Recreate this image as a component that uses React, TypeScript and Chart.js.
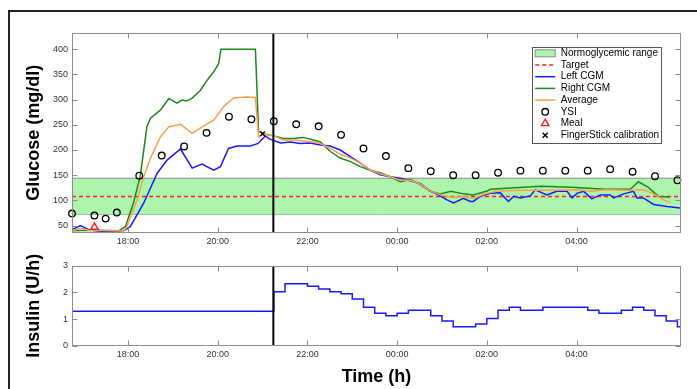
import React, { useEffect, useRef } from 'react';
import { Chart, registerables } from 'chart.js';

Chart.register(...registerables);

const FONT = '"Liberation Sans", Arial, Helvetica, sans-serif';

// ---- axis ranges / constants ----
const X_MIN = 16.75;
const X_MAX = 30.33;
const GLU_MIN = 36;
const GLU_MAX = 432;
const INS_MIN = 0;
const INS_MAX = 3;
const NORMO_LOW = 72;
const NORMO_HIGH = 144;
const TARGET = 108;
const CONTROL_START = 21.24;

const timeTicks = [18, 20, 22, 24, 26, 28];
const glucoseTicks = [50, 100, 150, 200, 250, 300, 350, 400];
const insulinTicks = [0, 1, 2, 3];

// ---- data (time in hours since midnight of day 1) ----
const leftCgmTimes = [16.75, 16.94, 17.12, 17.38, 17.9, 18.05, 18.35, 18.65, 18.87, 19.17, 19.43, 19.65, 19.91, 20.06, 20.24, 20.43, 20.73, 20.9, 21.06, 21.15, 21.4, 21.62, 21.84, 22.06, 22.29, 22.51, 22.73, 22.96, 23.18, 23.4, 23.62, 23.85, 24.07, 24.29, 24.52, 24.74, 24.96, 25.11, 25.26, 25.48, 25.63, 25.7, 25.85, 26.08, 26.3, 26.48, 26.6, 26.75, 26.97, 27.08, 27.34, 27.56, 27.79, 27.9, 28.01, 28.16, 28.34, 28.53, 28.75, 28.83, 29.05, 29.27, 29.35, 29.49, 29.72, 30.02, 30.31];
const leftCgmValues = [42, 50, 42, 39, 40, 48, 95, 154, 180, 202, 164, 172, 160, 167, 203, 208, 208, 213, 228, 222, 214, 216, 213, 214, 210, 208, 200, 187, 174, 160, 151, 147, 144, 139, 133, 119, 109, 101, 95, 104, 98, 98, 108, 114, 115, 98, 108, 105, 109, 121, 111, 118, 118, 105, 114, 118, 103, 111, 111, 105, 113, 118, 105, 105, 92, 88, 85];

const rightCgmTimes = [16.75, 17.2, 17.8, 17.94, 18.12, 18.27, 18.42, 18.5, 18.72, 18.91, 19.09, 19.2, 19.3, 19.43, 19.61, 19.76, 19.91, 20.02, 20.07, 20.84, 20.91, 21.02, 21.25, 21.47, 21.69, 21.91, 22.14, 22.29, 22.51, 22.73, 22.96, 23.18, 23.4, 23.62, 23.85, 24.07, 24.29, 24.52, 24.74, 24.96, 25.2, 25.48, 25.7, 25.99, 26.08, 26.45, 27.19, 27.9, 28.27, 28.64, 29.2, 29.38, 29.6, 29.83, 30.07];
const rightCgmValues = [40, 41, 40, 48, 95, 147, 246, 263, 279, 302, 293, 299, 297, 303, 318, 338, 355, 371, 400, 400, 237, 232, 228, 223, 223, 225, 220, 216, 197, 184, 177, 167, 160, 155, 147, 137, 142, 131, 118, 113, 118, 113, 111, 118, 122, 124, 128, 126, 124, 122, 122, 137, 126, 108, 107];

const averageTimes = [16.75, 16.94, 17.12, 17.9, 17.96, 18.2, 18.35, 18.5, 18.72, 18.91, 19.17, 19.43, 19.65, 19.91, 20.13, 20.35, 20.65, 20.84, 20.91, 21.02, 21.25, 21.47, 21.69, 21.91, 22.14, 22.29, 22.51, 22.73, 22.96, 23.18, 23.4, 23.62, 23.85, 24.07, 24.29, 24.52, 24.74, 24.96, 25.26, 25.5, 25.7, 25.93, 26.2, 26.82, 27.34, 28.01, 28.34, 28.64, 29.2, 29.49, 29.72, 29.94, 30.1];
const averageValues = [40, 45, 41, 40, 45, 101, 147, 184, 226, 246, 251, 233, 246, 259, 286, 303, 305, 304, 226, 231, 228, 220, 220, 218, 216, 213, 203, 192, 184, 174, 160, 153, 147, 140, 140, 132, 119, 111, 106, 108, 104, 112, 118, 120, 120, 121, 118, 121, 120, 121, 113, 101, 96];

const ysiTimes = [16.75, 17.25, 17.5, 17.75, 18.25, 18.75, 19.25, 19.75, 20.25, 20.75, 21.25, 21.75, 22.25, 22.75, 23.25, 23.75, 24.25, 24.75, 25.25, 25.75, 26.25, 26.75, 27.25, 27.75, 28.25, 28.75, 29.25, 29.75, 30.25];
const ysiValues = [74, 70, 64, 76, 149, 189, 207, 234, 266, 261, 257, 251, 247, 230, 203, 188, 164, 158, 150, 150, 155, 159, 159, 159, 159, 162, 157, 148, 140];

const mealTimes = [17.25];
const mealValues = [47];

const fingerStickTimes = [21.0];
const fingerStickValues = [232];

const insulinTimes = [16.75, 21.25, 21.5, 22.0, 22.25, 22.5, 22.75, 23.0, 23.25, 23.5, 23.75, 24.0, 24.25, 24.75, 25.0, 25.25, 25.75, 26.0, 26.25, 26.5, 26.75, 27.25, 28.25, 28.5, 29.0, 29.25, 29.5, 29.75, 30.0, 30.25, 30.33];
const insulinValues = [1.3, 2.03, 2.33, 2.23, 2.13, 2.03, 1.95, 1.76, 1.45, 1.22, 1.13, 1.22, 1.34, 1.13, 0.93, 0.72, 0.82, 1.03, 1.34, 1.45, 1.34, 1.45, 1.34, 1.22, 1.34, 1.45, 1.34, 1.13, 0.93, 0.72, 0.72];

// ---- styles ----
const BLUE = '#1a1aff';
const GREEN = '#1b8a1b';
const ORANGE = '#ff9d4d';
const BAND_FILL = 'rgb(173, 245, 173)';
const BAND_EDGE = '#8a8a8a';
const RED = '#ff2020';
const FRAME = '#8c8c8c';
const TICK_COLOR = '#333';

const pts = (xs: number[], ys: number[]) => xs.map((x, i) => ({ x, y: ys[i] }));
const fmtHour = (v: number) => {
  const h = ((Math.round(v) % 24) + 24) % 24;
  return String(h).padStart(2, '0') + ':00';
};

const framePlugin = {
  id: 'matlabFrame',
  afterDatasetsDraw(chart: any) {
    const { ctx, chartArea: a, scales } = chart;
    const L = Math.round(a.left) + 0.5;
    const R = Math.round(a.right) - 0.5;
    const T = Math.round(a.top) + 0.5;
    const B = Math.round(a.bottom) - 0.5;
    ctx.save();
    ctx.strokeStyle = FRAME;
    ctx.lineWidth = 1;
    ctx.strokeRect(L, T, R - L, B - T);
    const len = 5;
    ctx.beginPath();
    scales.x.ticks.forEach((t: any) => {
      const px = Math.round(scales.x.getPixelForValue(t.value)) + 0.5;
      ctx.moveTo(px, B); ctx.lineTo(px, B - len);
      ctx.moveTo(px, T); ctx.lineTo(px, T + len);
    });
    scales.y.ticks.forEach((t: any) => {
      const py = Math.round(scales.y.getPixelForValue(t.value)) + 0.5;
      ctx.moveTo(L, py); ctx.lineTo(L + len, py);
      ctx.moveTo(R, py); ctx.lineTo(R - len, py);
    });
    ctx.stroke();
    ctx.restore();
  },
};

const legendPlugin = {
  id: 'boxLegend',
  afterDraw(chart: any) {
    const items = chart.data.datasets
      .filter((d: any) => d.legendRank !== undefined)
      .sort((p: any, q: any) => p.legendRank - q.legendRank);
    const { ctx, chartArea: a } = chart;
    const rowH = 11.7;
    const boxW = 129;
    const boxH = items.length * rowH + 2.5;
    const right = a.right - 20.3;
    const top = a.top + 14.3;
    const left = right - boxW;
    ctx.save();
    ctx.fillStyle = '#fff';
    ctx.fillRect(left, top, boxW, boxH);
    ctx.strokeStyle = '#555';
    ctx.lineWidth = 1;
    ctx.strokeRect(Math.round(left) + 0.5, Math.round(top) + 0.5, boxW, Math.round(boxH));
    ctx.font = '10px ' + FONT;
    ctx.textBaseline = 'middle';
    ctx.textAlign = 'left';
    items.forEach((d: any, i: number) => {
      const y = top + 6 + i * rowH;
      const x0 = left + 3.5;
      const x1 = left + 23.5;
      const cx = left + 13.5;
      ctx.save();
      if (d.legendType === 'band') {
        ctx.fillStyle = d.backgroundColor;
        ctx.fillRect(x0, y - 3.5, 20, 7);
        ctx.strokeStyle = d.borderColor;
        ctx.lineWidth = 1;
        ctx.strokeRect(x0, y - 3.5, 20, 7);
      } else if (d.legendType === 'line') {
        ctx.strokeStyle = d.borderColor;
        ctx.lineWidth = d.borderWidth;
        ctx.setLineDash(d.borderDash || []);
        ctx.beginPath();
        ctx.moveTo(x0, y);
        ctx.lineTo(x1, y);
        ctx.stroke();
      } else if (d.legendType === 'circle') {
        ctx.strokeStyle = d.pointBorderColor;
        ctx.lineWidth = d.pointBorderWidth;
        ctx.beginPath();
        ctx.arc(cx, y, d.pointRadius, 0, Math.PI * 2);
        ctx.stroke();
      } else if (d.legendType === 'triangle') {
        const r = d.pointRadius;
        ctx.strokeStyle = d.pointBorderColor;
        ctx.lineWidth = d.pointBorderWidth;
        ctx.beginPath();
        ctx.moveTo(cx, y - r);
        ctx.lineTo(cx + r * 0.866, y + r * 0.5);
        ctx.lineTo(cx - r * 0.866, y + r * 0.5);
        ctx.closePath();
        ctx.stroke();
      } else if (d.legendType === 'cross') {
        const r = d.pointRadius * 0.8;
        ctx.strokeStyle = d.pointBorderColor;
        ctx.lineWidth = d.pointBorderWidth;
        ctx.beginPath();
        ctx.moveTo(cx - r, y - r); ctx.lineTo(cx + r, y + r);
        ctx.moveTo(cx + r, y - r); ctx.lineTo(cx - r, y + r);
        ctx.stroke();
      }
      ctx.restore();
      ctx.fillStyle = '#000';
      ctx.fillText(d.label, left + 29, y);
    });
    ctx.restore();
  },
};

const tickFont = { family: FONT, size: 9 };
const titleFont = { family: FONT, size: 18, weight: 'bold' as const };

function timeAxis(height: number, extra: any = {}) {
  return {
    type: 'linear',
    min: X_MIN,
    max: X_MAX,
    grid: { display: false, drawTicks: false },
    border: { display: false },
    afterBuildTicks: (s: any) => { s.ticks = timeTicks.map((v) => ({ value: v })); },
    afterFit: (s: any) => { s.height = height; },
    ticks: {
      callback: (v: any) => fmtHour(Number(v)),
      font: tickFont,
      color: TICK_COLOR,
      padding: 3,
      maxRotation: 0,
      autoSkip: false,
    },
    ...extra,
  };
}

function valueAxis(min: number, max: number, tickVals: number[], title: string) {
  return {
    type: 'linear',
    min,
    max,
    grid: { display: false, drawTicks: false },
    border: { display: false },
    afterBuildTicks: (s: any) => { s.ticks = tickVals.map((v) => ({ value: v })); },
    afterFit: (s: any) => { s.width = 72; },
    ticks: { font: tickFont, color: TICK_COLOR, padding: 4, autoSkip: false },
    title: { display: true, text: title, font: titleFont, color: '#000', padding: { top: 23, bottom: 0 } },
  };
}

const lineDs = (label: string, data: any[], color: string, width: number, order: number, extra: any = {}) => ({
  label,
  data,
  borderColor: color,
  backgroundColor: color,
  borderWidth: width,
  pointRadius: 0,
  pointHoverRadius: 0,
  tension: 0,
  fill: false,
  order,
  ...extra,
});

export default function App() {
  const topRef = useRef<HTMLCanvasElement | null>(null);
  const botRef = useRef<HTMLCanvasElement | null>(null);

  useEffect(() => {
    const glucoseDatasets: any[] = [
      lineDs('Normoglycemic range', pts([X_MIN, X_MAX], [NORMO_HIGH, NORMO_HIGH]), BAND_EDGE, 1, 20, {
        backgroundColor: BAND_FILL, fill: '+1', legendRank: 0, legendType: 'band',
      }),
      lineDs('normo-low', pts([X_MIN, X_MAX], [NORMO_LOW, NORMO_LOW]), BAND_EDGE, 1, 21),
      lineDs('Target', pts([X_MIN, X_MAX], [TARGET, TARGET]), RED, 1.5, 15, {
        borderDash: [4, 3], legendRank: 1, legendType: 'line',
      }),
      lineDs('Left CGM', pts(leftCgmTimes, leftCgmValues), BLUE, 1.5, 4, { legendRank: 2, legendType: 'line' }),
      lineDs('Right CGM', pts(rightCgmTimes, rightCgmValues), GREEN, 1.5, 5, { legendRank: 3, legendType: 'line' }),
      lineDs('Average', pts(averageTimes, averageValues), ORANGE, 1.5, 3, { legendRank: 4, legendType: 'line' }),
      {
        label: 'YSI', data: pts(ysiTimes, ysiValues), showLine: false, order: 1, clip: 10,
        pointStyle: 'circle', pointRadius: 3.3, pointHoverRadius: 3.3,
        pointBorderColor: '#000', pointBackgroundColor: 'rgba(0,0,0,0)', pointBorderWidth: 1.3,
        borderColor: '#000', backgroundColor: 'rgba(0,0,0,0)',
        legendRank: 5, legendType: 'circle',
      },
      {
        label: 'Meal', data: pts(mealTimes, mealValues), showLine: false, order: 1, clip: 10,
        pointStyle: 'triangle', pointRadius: 4.3, pointHoverRadius: 4.3,
        pointBorderColor: RED, pointBackgroundColor: 'rgba(0,0,0,0)', pointBorderWidth: 1.4,
        borderColor: RED, backgroundColor: 'rgba(0,0,0,0)',
        legendRank: 6, legendType: 'triangle',
      },
      {
        label: 'FingerStick calibration', data: pts(fingerStickTimes, fingerStickValues), showLine: false, order: 0, clip: 10,
        pointStyle: 'crossRot', pointRadius: 3.2, pointHoverRadius: 3.2,
        pointBorderColor: '#000', pointBackgroundColor: '#000', pointBorderWidth: 1.4,
        borderColor: '#000', backgroundColor: '#000',
        legendRank: 7, legendType: 'cross',
      },
      lineDs('control start', pts([CONTROL_START, CONTROL_START], [GLU_MIN, GLU_MAX]), '#000', 2, 0),
    ];

    const top = new Chart(topRef.current as HTMLCanvasElement, {
      type: 'line',
      data: { datasets: glucoseDatasets },
      options: {
        responsive: false,
        animation: false,
        devicePixelRatio: 1,
        events: [],
        layout: { padding: { left: 0, right: 16, top: 33, bottom: 0 } },
        plugins: { legend: { display: false }, tooltip: { enabled: false } },
        scales: {
          x: timeAxis(17.3) as any,
          y: valueAxis(GLU_MIN, GLU_MAX, glucoseTicks, 'Glucose (mg/dl)') as any,
        },
      },
      plugins: [framePlugin, legendPlugin],
    } as any);

    const bottom = new Chart(botRef.current as HTMLCanvasElement, {
      type: 'line',
      data: {
        datasets: [
          lineDs('Insulin', pts(insulinTimes, insulinValues), BLUE, 1.5, 2, { stepped: 'before' }),
          lineDs('control start', pts([CONTROL_START, CONTROL_START], [INS_MIN, INS_MAX]), '#000', 2, 0),
        ],
      },
      options: {
        responsive: false,
        animation: false,
        devicePixelRatio: 1,
        events: [],
        layout: { padding: { left: 0, right: 16, top: 15.7, bottom: 0 } },
        plugins: { legend: { display: false }, tooltip: { enabled: false } },
        scales: {
          x: timeAxis(43, {
            title: { display: true, text: 'Time (h)', font: titleFont, color: '#000', padding: { top: 0, bottom: 1.5 } },
          }) as any,
          y: valueAxis(INS_MIN, INS_MAX, insulinTicks, 'Insulin (U/h)') as any,
        },
      },
      plugins: [framePlugin],
    } as any);

    return () => {
      top.destroy();
      bottom.destroy();
    };
  }, []);

  return (
    <div style={{ position: 'fixed', left: 0, top: 0, width: 697, height: 389, overflow: 'hidden', background: '#fff' }}>
      <div
        style={{
          position: 'absolute', left: 8, top: 10, width: 900, height: 600,
          borderLeft: '2px solid #222', borderTop: '2px solid #222',
        }}
      />
      <canvas
        ref={topRef}
        width={697}
        height={250}
        style={{ position: 'absolute', left: 0, top: 0, width: 697, height: 250 }}
      />
      <canvas
        ref={botRef}
        width={697}
        height={139}
        style={{ position: 'absolute', left: 0, top: 250, width: 697, height: 139 }}
      />
    </div>
  );
}
